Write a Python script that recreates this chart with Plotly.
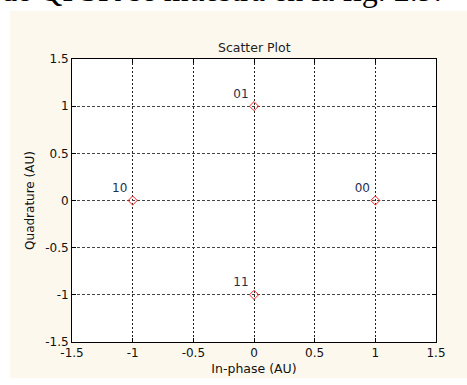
import plotly.graph_objects as go

symbols = ["00", "01", "10", "11"]
in_phase = [1, 0, -1, 0]
quadrature = [0, 1, 0, -1]
tick_vals = [-1.5, -1, -0.5, 0, 0.5, 1, 1.5]
tick_text = ["-1.5", "-1", "-0.5", "0", "0.5", "1", "1.5"]

W, H = 467, 385
L, R, T, B = 72, 436, 59, 347
pw, ph = R - L, B - T
FONT = "DejaVu Sans"

def px(x):
    return (x - L) / pw

def py(y):
    return (B - y) / ph

fig = go.Figure()
fig.add_trace(go.Scatter(
    x=in_phase, y=quadrature, mode="markers+text", text=symbols,
    textposition="top left",
    textfont=dict(family=FONT, size=12, color="#1f2f4f"),
    marker=dict(symbol="diamond-open", size=7, color="#ff2020", line=dict(width=1, color="#ff2020")),
    showlegend=False, cliponaxis=False,
))

fig.add_shape(type="rect", xref="paper", yref="paper",
              x0=px(10), x1=px(470), y0=py(384), y1=py(10),
              fillcolor="#fdf8ee", line=dict(width=0), layer="below")
fig.add_shape(type="rect", xref="paper", yref="paper",
              x0=0, x1=1, y0=0, y1=1,
              fillcolor="white", line=dict(width=0), layer="below")

fig.add_annotation(text="de QPSK se muestra en la fig. 2.9.", xref="paper", yref="paper",
                   x=px(-1), y=py(9.5), xanchor="left", yanchor="bottom", showarrow=False,
                   font=dict(family="Liberation Serif", size=32, color="black"))

fig.add_annotation(text="Scatter Plot", xref="paper", yref="paper",
                   x=0.5, y=py(47), xanchor="center", yanchor="middle", showarrow=False,
                   font=dict(family=FONT, size=12.5, color="#222"))

axis_common = dict(range=[-1.5, 1.5], tickvals=tick_vals, ticktext=tick_text,
                   showline=True, linecolor="black", linewidth=1, mirror="ticks",
                   ticks="inside", ticklen=4, tickcolor="black",
                   zeroline=False, showgrid=True,
                   tickfont=dict(family=FONT, size=12, color="#111"))

fig.update_xaxes(**axis_common, gridcolor="#222", griddash="2px,2px",
                 title=dict(text="In-phase (AU)", standoff=4,
                            font=dict(family=FONT, size=12.5, color="#111")))
fig.update_yaxes(**axis_common, gridcolor="#444", griddash="3px,2px",
                 title=dict(text="Quadrature (AU)", standoff=7,
                            font=dict(family=FONT, size=12, color="#111")))

fig.update_layout(width=W, height=H, margin=dict(l=L, r=W - R, t=T, b=H - B),
                  paper_bgcolor="white", plot_bgcolor="white")

fig.write_html("out.html", config={"displayModeBar": False},
               post_script="document.body.style.margin='0';")
